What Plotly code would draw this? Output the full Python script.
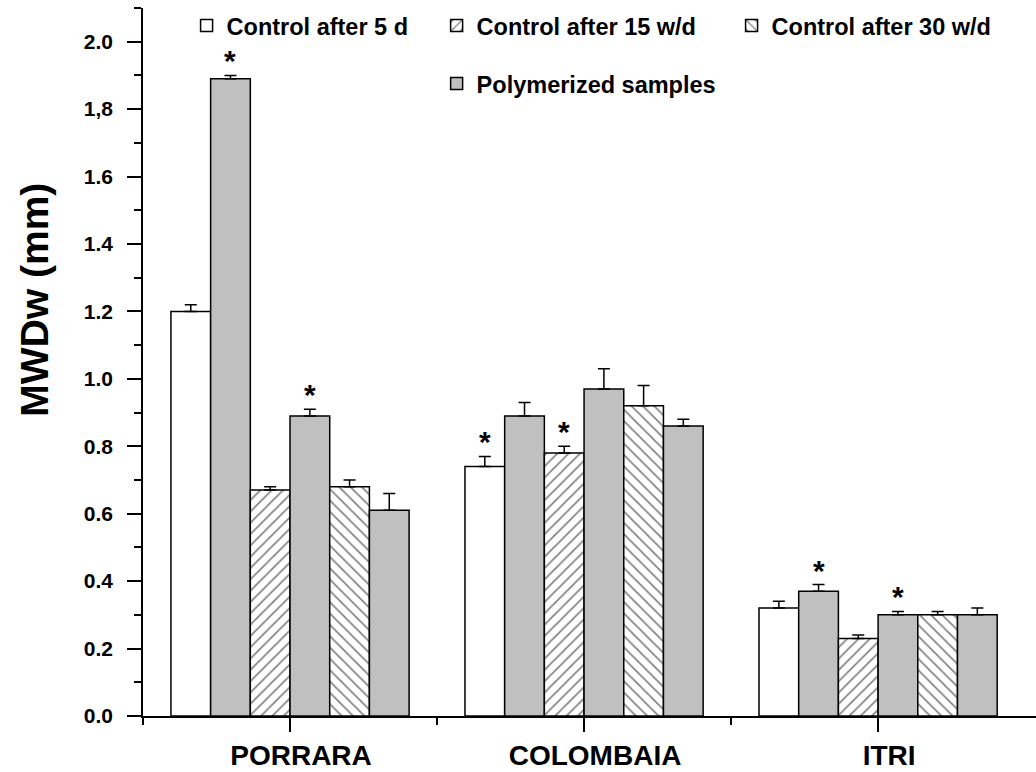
import plotly.graph_objects as go

# ---------------- data ----------------
sites = ["PORRARA", "COLOMBAIA", "ITRI"]

ctrl_5d = [1.20, 0.74, 0.32]
ctrl_5d_err = [0.02, 0.03, 0.02]
poly_a = [1.89, 0.89, 0.37]
poly_a_err = [0.01, 0.04, 0.02]
ctrl_15 = [0.67, 0.78, 0.23]
ctrl_15_err = [0.01, 0.02, 0.01]
poly_b = [0.89, 0.97, 0.30]
poly_b_err = [0.02, 0.06, 0.01]
ctrl_30 = [0.68, 0.92, 0.30]
ctrl_30_err = [0.02, 0.06, 0.01]
poly_c = [0.61, 0.86, 0.30]
poly_c_err = [0.05, 0.02, 0.02]

# significance markers (True -> asterisk above the bar)
sig_ctrl_5d = [False, True, False]
sig_poly_a = [True, False, True]
sig_ctrl_15 = [False, True, False]
sig_poly_b = [True, False, True]
sig_ctrl_30 = [False, False, False]
sig_poly_c = [False, False, False]

ytick_vals = [0.0, 0.2, 0.4, 0.6, 0.8, 1.0, 1.2, 1.4, 1.6, 1.8, 2.0]
ytick_text = ["0.0", "0.2", "0.4", "0.6", "0.8", "1.0", "1.2", "1.4", "1.6", "1,8", "2.0"]

# ---------------- styling ----------------
FONT = "Liberation Sans, Arial, sans-serif"
GRAY = "#c0c0c0"
BARGAP = 0.19
xpos = list(range(len(sites)))

series = [
    # name, values, errors, sig, fill, pattern, legend id, showlegend
    ("Control after 5 d", ctrl_5d, ctrl_5d_err, sig_ctrl_5d, "white", "", "legend", True),
    ("Polymerized samples", poly_a, poly_a_err, sig_poly_a, GRAY, "", "legend4", True),
    ("Control after 15 w/d", ctrl_15, ctrl_15_err, sig_ctrl_15, "white", "/", "legend2", True),
    ("Polymerized samples", poly_b, poly_b_err, sig_poly_b, GRAY, "", "legend4", False),
    ("Control after 30 w/d", ctrl_30, ctrl_30_err, sig_ctrl_30, "white", "\\", "legend3", True),
    ("Polymerized samples", poly_c, poly_c_err, sig_poly_c, GRAY, "", "legend4", False),
]

n = len(series)
bar_w = (1 - BARGAP) / n

fig = go.Figure()
annotations = []
for i, (name, vals, errs, sig, fill, shape, leg, showleg) in enumerate(series):
    marker = dict(color=fill, line=dict(color="black", width=1.5))
    if shape:
        marker["pattern"] = dict(shape=shape, fgcolor="black", bgcolor="white",
                                 size=8, solidity=0.2, fillmode="overlay")
    fig.add_trace(go.Bar(
        x=xpos, y=vals, name="<b>%s</b>" % name, marker=marker,
        legend=leg, showlegend=showleg,
        error_y=dict(type="data", array=errs, arrayminus=[0] * len(errs),
                     symmetric=False, color="black", thickness=1.5, width=6),
    ))
    offset = (i - (n - 1) / 2) * bar_w
    for j, s in enumerate(sig):
        if s:
            annotations.append(dict(
                x=xpos[j] + offset, y=vals[j] + errs[j], xref="x", yref="y",
                text="<b>*</b>", showarrow=False, yanchor="bottom",
                font=dict(family=FONT, size=30, color="black"), yshift=-4,
            ))

# y-axis title (placed as rotated text, as in the original figure)
annotations.append(dict(
    x=-0.121, y=0.588, xref="paper", yref="paper", text="<b>MWDw (mm)</b>",
    textangle=-90, showarrow=False, xanchor="center", yanchor="middle",
    font=dict(family=FONT, size=39, color="black"),
))

legend_common = dict(orientation="h", bgcolor="rgba(0,0,0,0)",
                     font=dict(family=FONT, size=23.5, color="black"),
                     xanchor="left", yanchor="middle", xref="paper", yref="paper",
                     itemwidth=30, tracegroupgap=0)

fig.update_layout(
    width=1036, height=772,
    paper_bgcolor="white", plot_bgcolor="white",
    margin=dict(l=143, r=0, t=8, b=56, autoexpand=False),
    barmode="group", bargap=BARGAP, bargroupgap=0,
    font=dict(family=FONT, color="black"),
    annotations=annotations,
    legend=dict(x=0.0488, y=0.975, **legend_common),
    legend2=dict(x=0.3288, y=0.975, **legend_common),
    legend3=dict(x=0.6591, y=0.975, **legend_common),
    legend4=dict(x=0.3288, y=0.893, **legend_common),
    xaxis=dict(
        range=[-0.5, 2.537], tickmode="array", tickvals=xpos,
        ticktext=["<b>%s</b>" % s for s in sites],
        tickfont=dict(family=FONT, size=28, color="black"),
        ticklabelshift=11,
        showline=True, linecolor="black", linewidth=1.5,
        ticks="outside", ticklen=14, tickwidth=1.5, tickcolor="black",
        minor=dict(tickvals=[-0.5, 0.5, 1.5], ticks="outside", ticklen=7,
                   tickwidth=1.5, tickcolor="black"),
        showgrid=False, zeroline=False, automargin=False,
    ),
    yaxis=dict(
        range=[0, 2.1], tickmode="array", tickvals=ytick_vals,
        ticktext=["<b>%s</b>" % t for t in ytick_text],
        tickfont=dict(family=FONT, size=21, color="black"),
        ticklabelstandoff=10,
        showline=True, linecolor="black", linewidth=1.5,
        ticks="outside", ticklen=14, tickwidth=1.5, tickcolor="black",
        minor=dict(tickvals=[0.1, 0.3, 0.5, 0.7, 0.9, 1.1, 1.3, 1.5, 1.7, 1.9, 2.1],
                   ticks="outside", ticklen=7, tickwidth=1.5, tickcolor="black"),
        showgrid=False, zeroline=False, automargin=False,
    ),
)

fig.write_html("out.html", config={"displayModeBar": False},
               post_script="document.body.style.margin='0px';")
